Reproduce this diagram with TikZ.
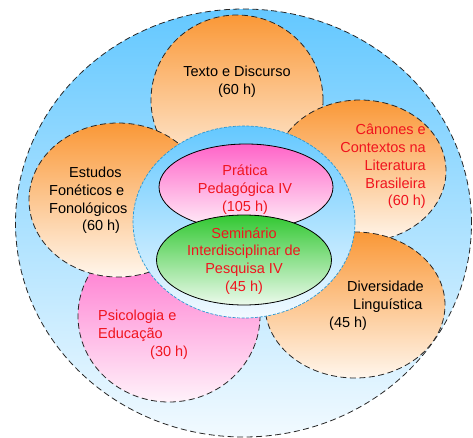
\documentclass[tikz,border=0pt]{standalone}
\usepackage{fontspec}
\setmainfont{Liberation Sans}
\usetikzlibrary{shapes.geometric}
\definecolor{orTop}{RGB}{250,152,55}
\definecolor{orBot}{RGB}{255,246,236}
\definecolor{pkTop}{RGB}{255,100,200}
\definecolor{pkBot}{RGB}{255,242,250}
\definecolor{grTop}{RGB}{50,200,50}
\definecolor{grBot}{RGB}{236,250,236}
\definecolor{blTop}{RGB}{100,200,255}
\definecolor{blBot}{RGB}{242,250,255}
\definecolor{txtRed}{RGB}{240,20,30}
\definecolor{cyanEdge}{RGB}{40,150,210}
\tikzset{
  blob/.style={ellipse, inner sep=0pt, outer sep=0pt, draw=black!85, line width=0.8pt,
    dash pattern=on 6pt off 3.5pt},
  orangeblob/.style={blob, top color=orTop, bottom color=orBot},
  pinkblob/.style={blob, top color=pkTop, bottom color=pkBot},
  skyblob/.style={blob, top color=blTop, bottom color=blBot},
  solidblob/.style={ellipse, inner sep=0pt, outer sep=0pt, draw=black, line width=0.8pt},
  label/.style={inner sep=0pt, font=\fontsize{14.5}{17.8}\selectfont},
}
\begin{document}
\begin{tikzpicture}[x=1pt,y=-1pt]
\useasboundingbox (0,0) rectangle (473,438);
% outer circle
\node[skyblob, minimum width=456pt, minimum height=428pt] (outer) at (243.5,223) {};
% course ellipses
\node[orangeblob, minimum width=172pt, minimum height=170pt] (texto) at (237,100) {};
\node[orangeblob, minimum width=172pt, minimum height=142pt] (canones) at (360,171) {};
\node[orangeblob, minimum width=180pt, minimum height=146pt] (divers) at (355,305) {};
\node[pinkblob, minimum width=182pt, minimum height=172pt] (psico) at (169,316) {};
\node[orangeblob, minimum width=178pt, minimum height=154pt] (estudos) at (118,200) {};
% inner circle
\node[ellipse, inner sep=0pt, outer sep=0pt, top color=blTop, bottom color=blBot,
  draw=cyanEdge, line width=0.7pt, dash pattern=on 3pt off 1.5pt,
  minimum width=222pt, minimum height=192pt] (inner) at (244,222) {};
\node[solidblob, top color=pkTop, bottom color=pkBot, minimum width=174pt, minimum height=86pt] (pratica) at (246,187) {};
\node[solidblob, top color=grTop, bottom color=grBot, minimum width=175pt, minimum height=90pt] (semin) at (244,260) {};
% labels
\node[label, align=center] (tTexto) at (237,82) {Texto e Discurso\\(60 h)};
\node[label, align=left, anchor=west] (tEstudos) at (49,200.5) {\hspace{20pt}Estudos\\Fonéticos e\\Fonológicos\\\hspace{33pt}(60 h)};
\node[label, align=right, anchor=east, text=txtRed] (tCanones) at (426,166.5) {Cânones e\\Contextos na\\Literatura\\Brasileira\\(60 h)};
\node[label, align=center, text=txtRed] (tPratica) at (245,189.5) {Prática\\Pedagógica IV\\(105 h)};
\node[label, align=center, text=txtRed] (tSemin) at (244,261) {Seminário\\Interdisciplinar de\\Pesquisa IV\\(45 h)};
\node[label, align=left, anchor=west] (tDivers) at (329,306) {\hspace{18pt}Diversidade\\\hspace{24pt}Linguística\\(45 h)};
\node[label, align=left, anchor=west, text=txtRed] (tPsico) at (98,335) {Psicologia e\\Educação\\\hspace{52pt}(30 h)};
\end{tikzpicture}
\end{document}
